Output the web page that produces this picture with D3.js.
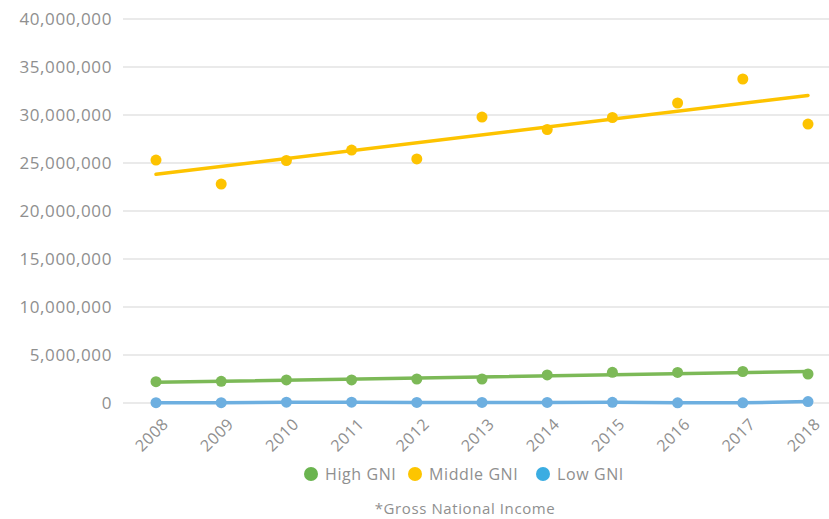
<!DOCTYPE html>
<html>
<head>
<meta charset="utf-8">
<script src="https://cdn.jsdelivr.net/npm/d3@7"></script>
<style>
  body { margin: 0; background: #fff; }
  text { font-family: "Open Sans", sans-serif; fill: #8f8f8f; letter-spacing: 0.6px; }
</style>
</head>
<body>
<div id="chart"></div>
<script>
var years = [2008, 2009, 2010, 2011, 2012, 2013, 2014, 2015, 2016, 2017, 2018];
var highGNI = [2220000, 2260000, 2400000, 2400000, 2500000, 2500000, 2920000, 3200000, 3180000, 3280000, 3020000];
var middleGNI = [25310000, 22810000, 25260000, 26350000, 25420000, 29790000, 28490000, 29740000, 31250000, 33750000, 29060000];
var lowGNI = [30000, 30000, 90000, 90000, 60000, 60000, 60000, 70000, 20000, 20000, 150000];
var yTicks = [0, 5000000, 10000000, 15000000, 20000000, 25000000, 30000000, 35000000, 40000000];

var series = [
  { name: "High GNI", values: highGNI, color: "#7cb957", legend: "#6ab44f", trend: true },
  { name: "Middle GNI", values: middleGNI, color: "#fdc300", legend: "#fdc500", trend: true },
  { name: "Low GNI", values: lowGNI, color: "#6dafe0", legend: "#3badE2", trend: false }
];

var width = 829, height = 519;
var svg = d3.select("#chart").append("svg")
  .attr("width", width)
  .attr("height", height);

var x = d3.scalePoint().domain(years).range([156, 808]);
var y = d3.scaleLinear().domain([0, 40000000]).range([403, 19]);

// gridlines
svg.append("g")
  .selectAll("line")
  .data(yTicks)
  .enter().append("line")
  .attr("x1", 123).attr("x2", 829)
  .attr("y1", function (d) { return y(d); })
  .attr("y2", function (d) { return y(d); })
  .attr("stroke", "#e3e3e3")
  .attr("stroke-width", 1.5);

// y axis labels
var yAxis = svg.append("g")
  .attr("transform", "translate(112,0)")
  .call(d3.axisLeft(y).tickValues(yTicks).tickSize(0).tickPadding(0).tickFormat(d3.format(",")));
yAxis.select(".domain").remove();
yAxis.selectAll("text")
  .attr("font-size", 17)
  .attr("font-family", "'Open Sans', sans-serif")
  .attr("fill", "#8f8f8f");

// x axis labels
var xAxis = svg.append("g")
  .attr("transform", "translate(0,403)")
  .call(d3.axisBottom(x).tickSize(0).tickPadding(0).tickFormat(d3.format("d")));
xAxis.select(".domain").remove();
xAxis.selectAll("text")
  .attr("font-size", 16)
  .attr("font-family", "'Open Sans', sans-serif")
  .attr("fill", "#8f8f8f")
  .attr("text-anchor", "end")
  .attr("dy", 0)
  .attr("transform", "translate(13,22) rotate(-45)");

function regression(vals) {
  var n = vals.length, mx = (n - 1) / 2, my = d3.mean(vals);
  var num = 0, den = 0;
  vals.forEach(function (v, i) { num += (i - mx) * (v - my); den += (i - mx) * (i - mx); });
  var b = num / den, a = my - b * mx;
  return [a, a + b * (n - 1)];
}

series.forEach(function (s) {
  var g = svg.append("g");
  if (s.trend) {
    var t = regression(s.values);
    g.append("line")
      .attr("x1", x(years[0])).attr("y1", y(t[0]))
      .attr("x2", x(years[years.length - 1])).attr("y2", y(t[1]))
      .attr("stroke", s.color)
      .attr("stroke-width", 3.5)
      .attr("stroke-linecap", "round");
  } else {
    g.append("path")
      .datum(s.values)
      .attr("fill", "none")
      .attr("stroke", s.color)
      .attr("stroke-width", 3.5)
      .attr("d", d3.line()
        .x(function (d, i) { return x(years[i]); })
        .y(function (d) { return y(d); }));
  }
  g.selectAll("circle")
    .data(s.values)
    .enter().append("circle")
    .attr("cx", function (d, i) { return x(years[i]); })
    .attr("cy", function (d) { return y(d); })
    .attr("r", 5.5)
    .attr("fill", s.color);
});

// legend
var legendX = [311, 415, 543];
var legend = svg.append("g");
series.forEach(function (s, i) {
  legend.append("circle")
    .attr("cx", legendX[i]).attr("cy", 474)
    .attr("r", 7)
    .attr("fill", s.legend);
  legend.append("text")
    .attr("x", legendX[i] + 14).attr("y", 480)
    .attr("font-size", 16)
    .text(s.name);
});

svg.append("text")
  .attr("x", 465).attr("y", 514)
  .attr("text-anchor", "middle")
  .attr("font-size", 15)
  .text("*Gross National Income");
</script>
</body>
</html>
